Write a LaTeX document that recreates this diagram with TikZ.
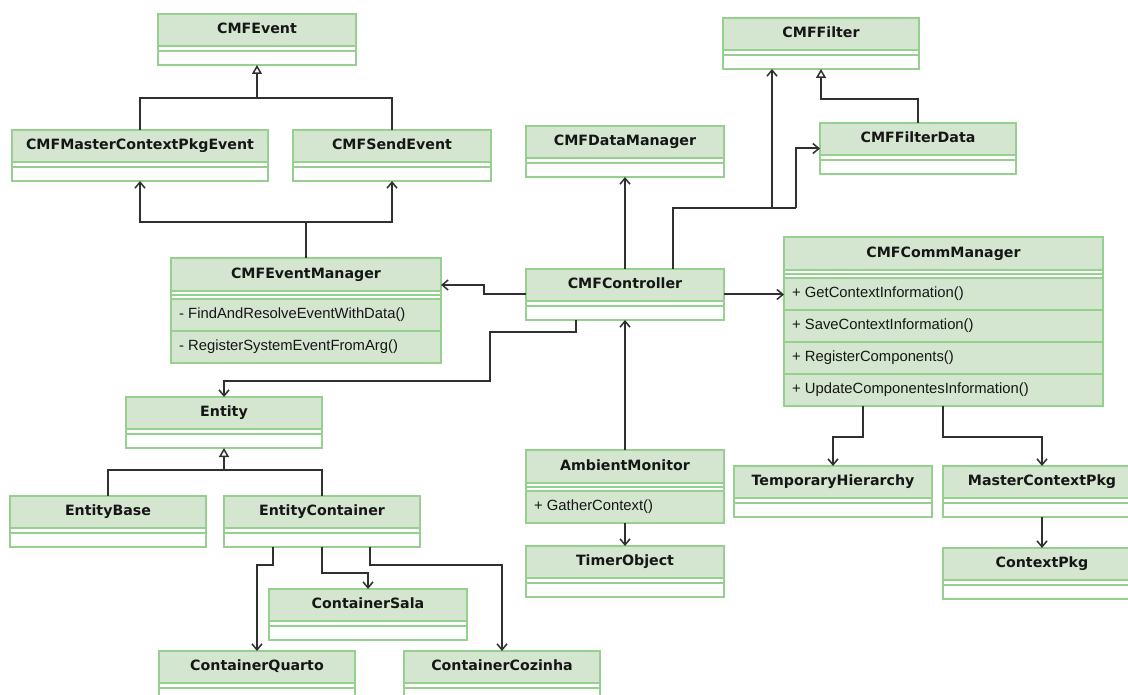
\documentclass[tikz,border=0pt]{standalone}
\usepackage{fontspec}
\usetikzlibrary{arrows.meta,calc}
\newfontfamily\titlefont{DejaVu Sans}
\newfontfamily\methfont{Liberation Sans}
\definecolor{bandgreen}{HTML}{D4E6CF}
\definecolor{rulegreen}{HTML}{96D08E}
\definecolor{wireclr}{HTML}{303030}
\definecolor{inkclr}{HTML}{161616}

\tikzset{
  clsbox/.style={rectangle, fill=white, draw=none, inner sep=0pt, outer sep=0pt},
  bandfill/.style={fill=bandgreen},
  sepline/.style={draw=rulegreen, line width=1.6pt},
  titletext/.style={font=\titlefont\bfseries\fontsize{14.2}{16}\selectfont, text=inkclr,
    inner sep=0pt, text height=10pt, text depth=2.5pt},
  methtext/.style={font=\methfont\fontsize{14.8}{17}\selectfont, text=inkclr,
    inner sep=0pt, anchor=west, text height=10.5pt, text depth=3pt},
  conn/.style={draw=wireclr, line width=2pt},
  assoc/.style={conn, -{Straight Barb[length=6pt,width=10pt,line width=1.5pt]}},
  gen/.style={conn, -{Triangle[open,length=9pt,width=10pt,fill=white,line width=1.5pt]}},
}

% class with empty attribute and operation compartments
% #1 name, #2 x, #3 y, #4 width, #5 title
\newcommand\plainclass[5]{%
  \node[clsbox, minimum width=#4pt, minimum height=51pt, anchor=north west] (#1) at (#2,#3) {};
  \fill[bandfill] (#1.north west) rectangle ($(#1.north east)+(0,32)$);
  \draw[sepline] ($(#1.north west)+(0,32)$) -- ++(#4,0);
  \draw[sepline] ($(#1.north west)+(0,37)$) -- ++(#4,0);
  \draw[sepline] (#1.north west) rectangle (#1.south east);
  \node[titletext] (#1-title) at ($(#1.north)+(0,16)$) {#5};
}

% class with a list of operations
% #1 name, #2 x, #3 y, #4 width, #5 height, #6 title, #7 operations
\newcommand\opsclass[7]{%
  \node[clsbox, minimum width=#4pt, minimum height=#5pt, anchor=north west] (#1) at (#2,#3) {};
  \fill[bandfill] (#1.north west) rectangle ($(#1.north east)+(0,33)$);
  \fill[bandfill] ($(#1.north west)+(0,41)$) rectangle (#1.south east);
  \draw[sepline] ($(#1.north west)+(0,33)$) -- ++(#4,0);
  \draw[sepline] ($(#1.north west)+(0,37)$) -- ++(#4,0);
  \foreach \opname [count=\opidx] in {#7} {
    \draw[sepline] ($(#1.north west)+(0,{41+32*(\opidx-1)})$) -- ++(#4,0);
    \node[methtext] (#1-op\opidx) at ($(#1.north west)+(8,{57+32*(\opidx-1)})$) {\opname};
  }
  \draw[sepline] (#1.north west) rectangle (#1.south east);
  \node[titletext] (#1-title) at ($(#1.north)+(0,16.5)$) {#6};
}

\begin{document}
\begin{tikzpicture}[x=1pt,y=-1pt]
\useasboundingbox (0,0) rectangle (1128,695);
\fill[white] (0,0) rectangle (1128,695);
\clip (0,0) rectangle (1128,695);

% classes
\plainclass{ev}{158}{14}{198}{CMFEvent}
\plainclass{mcpe}{12}{130}{256}{CMFMasterContextPkgEvent}
\plainclass{se}{293}{130}{198}{CMFSendEvent}
\plainclass{flt}{723}{18}{196}{CMFFilter}
\plainclass{fd}{820}{123}{196}{CMFFilterData}
\plainclass{dm}{526}{126}{198}{CMFDataManager}
\opsclass{em}{171}{258}{270}{105}{CMFEventManager}{{- FindAndResolveEventWithData()},{- RegisterSystemEventFromArg()}}
\plainclass{ctl}{526}{269}{198}{CMFController}
\opsclass{cm}{784}{237}{319}{169}{CMFCommManager}{{+ GetContextInformation()},{+ SaveContextInformation()},{+ RegisterComponents()},{+ UpdateComponentesInformation()}}
\plainclass{ent}{126}{397}{196}{Entity}
\plainclass{eb}{10}{496}{196}{EntityBase}
\plainclass{ec}{224}{496}{196}{EntityContainer}
\opsclass{am}{526}{450}{198}{73}{AmbientMonitor}{{+ GatherContext()}}
\plainclass{tmr}{526}{546}{198}{TimerObject}
\plainclass{th}{734}{466}{198}{TemporaryHierarchy}
\plainclass{mcp}{943}{466}{198}{MasterContextPkg}
\plainclass{cp}{943}{548}{198}{ContextPkg}
\plainclass{cs}{269}{589}{198}{ContainerSala}
\plainclass{cq}{159}{651}{196}{ContainerQuarto}
\plainclass{cz}{404}{651}{196}{ContainerCozinha}

% event hierarchy
\coordinate (evj) at ($(ev.south)+(0,33)$);
\draw[conn] (mcpe.north) |- (evj) -| (se.north);
\draw[gen] (evj) -- (ev.south);

% event manager uses both events
\coordinate (emj) at ($(em.north)+(0,-36)$);
\draw[conn] (em.north) -- (emj);
\draw[assoc] (emj) -| (mcpe.south);
\draw[assoc] (emj) -| (se.south);

% controller associations
\coordinate (emin) at ($(em.north east)+(0,27)$);
\draw[assoc] (ctl.west) -- ++(-42,0) |- (emin);
\draw[assoc] (ctl.north) -- (dm.south);
\draw[assoc] (ctl.east) -- (cm.west |- ctl.east);

\coordinate (cfa) at ($(ctl.north)+(48,0)$);
\coordinate (cfb) at ($(ctl.north)+(48,-61)$);
\coordinate (cfc) at ($(cfb)+(123,0)$);
\coordinate (fltin) at ($(flt.south west)+(49,0)$);
\draw[conn] (cfa) -- (cfb) -- (cfc);
\draw[assoc] (fltin |- cfb) -- (fltin);
\draw[assoc] (cfc) |- (fd.west);

\draw[assoc] ($(ctl.south)+(-49,0)$) -- ++(0,12) -- ++(-86,0) -- ++(0,49) -| (ent.north);

% filter hierarchy
\draw[gen] (fd.north) -- ++(0,-24) -| (flt.south);

% ambient monitor
\draw[assoc] (am.north) -- (ctl.south);
\draw[assoc] (am.south) -- (tmr.north);

% communication manager
\draw[assoc] ($(cm.south west)+(79,0)$) -- ++(0,31) -| (th.north);
\draw[assoc] ($(cm.south west)+(159,0)$) -- ++(0,31) -| (mcp.north);
\draw[assoc] (mcp.south) -- (cp.north);

% entity hierarchy
\coordinate (entj) at ($(ent.south)+(0,22)$);
\draw[conn] (eb.north) |- (entj) -| (ec.north);
\draw[gen] (entj) -- (ent.south);

% containers
\draw[assoc] ($(ec.south west)+(49,0)$) -- ++(0,18) -| (cq.north);
\draw[assoc] (ec.south) -- ++(0,26) -| (cs.north);
\draw[assoc] ($(ec.south west)+(146,0)$) -- ++(0,18) -| (cz.north);
\end{tikzpicture}
\end{document}
